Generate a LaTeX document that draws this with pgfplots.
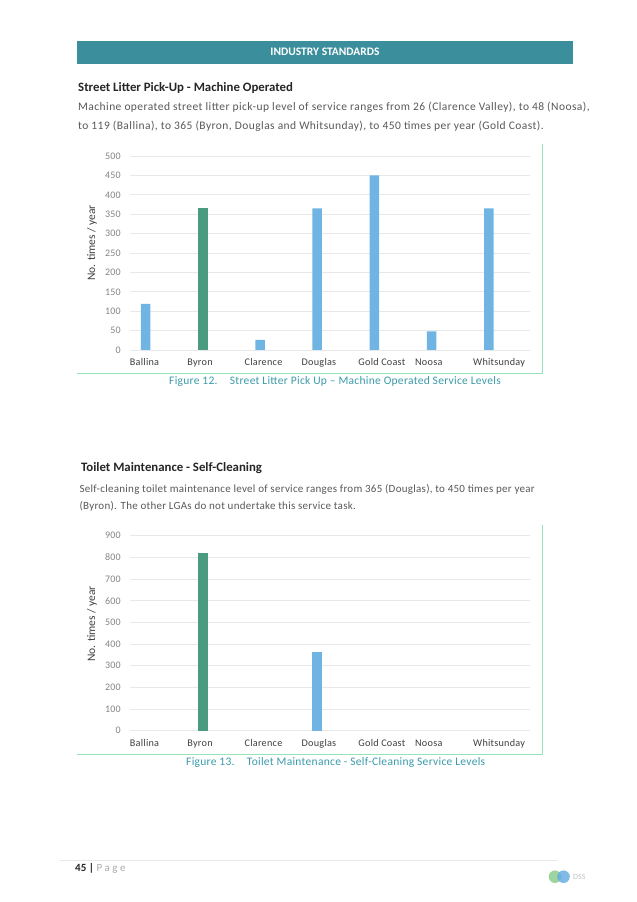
\documentclass[border=0pt]{standalone}
\usepackage{pgfplots}
\pgfplotsset{compat=1.18}
\usepackage{fontspec}
\setmainfont{Carlito}
\newfontfamily\bodyfont[LetterSpace=2.5]{Carlito}
\newfontfamily\paraAfont[LetterSpace=3.8]{Carlito}
\definecolor{headteal}{HTML}{3B8E9C}
\definecolor{capteal}{HTML}{3A9BAA}
\definecolor{barblue}{HTML}{70B4E4}
\definecolor{bargreen}{HTML}{4A9B80}
\definecolor{bodygray}{HTML}{595959}
\definecolor{headdark}{HTML}{262626}
\definecolor{framegreen}{HTML}{95E3B8}
\definecolor{gridgray}{HTML}{E8E8E8}
\definecolor{tickgray}{HTML}{858585}
\definecolor{labdark}{HTML}{404040}

\pgfplotsset{
  pagechart/.style={
    scale only axis, anchor=south west,
    width=400pt,
    xmin=-0.274, xmax=6.72, ymin=0,
    axis line style={draw=none},
    major tick length=0pt,
    ymajorgrids,
    grid style={draw=gridgray, line width=0.9pt},
    xtick={-0.02,0.95,2.06,3.03,4.13,4.95,6.18},
    xticklabels={Ballina,Byron,Clarence,Douglas,Gold Coast,Noosa,Whitsunday},
    xticklabel style={font=\bodyfont\fontsize{10.2}{11}\selectfont, text=labdark, anchor=base, inner sep=0pt, yshift=-16pt},
    yticklabel style={font=\bodyfont\fontsize{10}{11}\selectfont, text=tickgray, anchor=east, inner sep=0pt, xshift=-9pt},
    /pgf/number format/assume math mode=true,
  },
  bluebars/.style={ybar, bar width=9.5pt, fill=barblue, draw=none},
  greenbars/.style={ybar, bar width=9.5pt, fill=bargreen, draw=none},
}

\begin{document}
\begin{tikzpicture}[x=1pt, y=1pt]
\useasboundingbox[fill=white] (0,0) rectangle (637,902);

% header band
\fill[headteal] (77.3,902-64) rectangle (572.7,902-40.7);
\node[anchor=base, text=white, font=\fontsize{11.5}{13}\selectfont\bfseries, inner sep=0pt] at (325,902-55.7) {INDUSTRY STANDARDS};

% section 1 text
\node[anchor=base west, inner sep=0pt, text=headdark, font=\fontsize{12.8}{14}\selectfont\bfseries] at (78,902-91.7) {Street Litter Pick-Up - Machine Operated};
\node[anchor=base west, inner sep=0pt, text=bodygray, font=\paraAfont\fontsize{11.5}{12}\selectfont] at (78,902-111) {Machine operated street litter pick-up level of service ranges from 26 (Clarence Valley), to 48 (Noosa),};
\node[anchor=base west, inner sep=0pt, text=bodygray, font=\paraAfont\fontsize{11.5}{12}\selectfont] at (78,902-129.3) {to 119 (Ballina), to 365 (Byron, Douglas and Whitsunday), to 450 times per year (Gold Coast).};

% chart 1 frame
\draw[framegreen, line width=1pt] (77,902-374) -- (542,902-374) -- (542,902-144);
\node[rotate=90, anchor=center, text=labdark, font=\fontsize{11.5}{12}\selectfont] at (92,902-243) {No. times / year};

\begin{axis}[pagechart, at={(130pt,552pt)}, height=194pt, ymax=500, ytick={0,50,...,500}]
  \addplot[bluebars] coordinates {(0,119) (2,26) (3,365) (4,450) (5,48) (6,365)};
  \addplot[greenbars] coordinates {(1,365)};
\end{axis}

\node[anchor=base west, inner sep=0pt, text=capteal, font=\bodyfont\fontsize{11.5}{12}\selectfont] at (169,902-385) {Figure 12.};
\node[anchor=base west, inner sep=0pt, text=capteal, font=\bodyfont\fontsize{11.5}{12}\selectfont] at (229.7,902-385) {Street Litter Pick Up \textendash{} Machine Operated Service Levels};

% section 2 text
\node[anchor=base west, inner sep=0pt, text=headdark, font=\fontsize{12.8}{14}\selectfont\bfseries] at (81,902-471.7) {Toilet Maintenance - Self-Cleaning};
\node[anchor=base west, inner sep=0pt, text=bodygray, font=\bodyfont\fontsize{11}{12}\selectfont] at (79.3,902-492.5) {Self-cleaning toilet maintenance level of service ranges from 365 (Douglas), to 450 times per year};
\node[anchor=base west, inner sep=0pt, text=bodygray, font=\bodyfont\fontsize{11}{12}\selectfont] at (79.3,902-509.5) {(Byron). The other LGAs do not undertake this service task.};

% chart 2 frame
\draw[framegreen, line width=1pt] (77,902-755) -- (542,902-755) -- (542,902-525);
\node[rotate=90, anchor=center, text=labdark, font=\fontsize{11.5}{12}\selectfont] at (92,902-624) {No. times / year};

\begin{axis}[pagechart, at={(130pt,171.3pt)}, height=195pt, ymax=900, ytick={0,100,...,900}]
  \addplot[bluebars] coordinates {(3,365)};
  \addplot[greenbars] coordinates {(1,818)};
\end{axis}

\node[anchor=base west, inner sep=0pt, text=capteal, font=\bodyfont\fontsize{11.5}{12}\selectfont] at (186,902-766) {Figure 13.};
\node[anchor=base west, inner sep=0pt, text=capteal, font=\bodyfont\fontsize{11.5}{12}\selectfont] at (246.7,902-766) {Toilet Maintenance - Self-Cleaning Service Levels};

% footer
\draw[gridgray, line width=0.8pt] (60,902-860.7) -- (558,902-860.7);
\node[anchor=base west, inner sep=0pt, font=\fontsize{11}{12}\selectfont] at (75,902-872) {\textbf{\textcolor{headdark}{45 |}} \textcolor{tickgray!70}{P a g e}};
\fill[green!40!gray!60!white, opacity=0.9] (555,902-876.7) circle (6.3);
\fill[cyan!70!blue!60!white, opacity=0.85] (563.5,902-876.7) circle (6.3);
\node[anchor=base west, inner sep=0pt, text=tickgray!50, font=\fontsize{8}{9}\selectfont] at (573,902-880) {DSS};
\end{tikzpicture}
\end{document}
